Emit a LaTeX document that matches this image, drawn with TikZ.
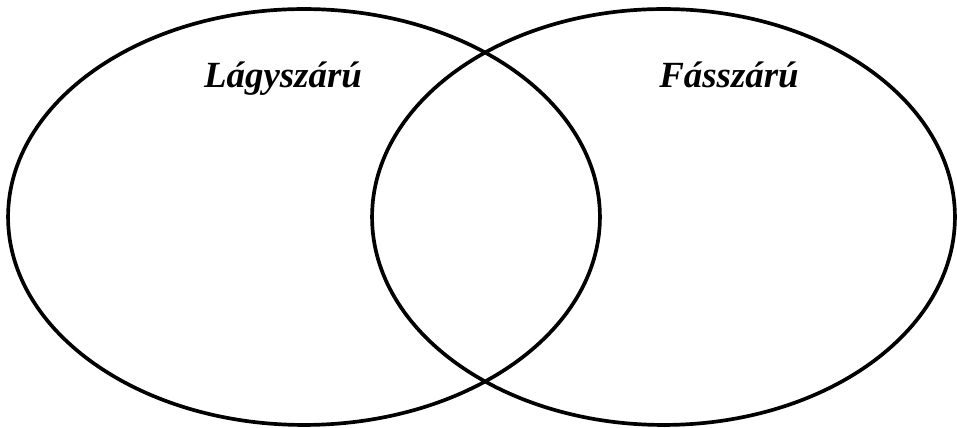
\documentclass[tikz,border=0pt]{standalone}
\usepackage{fontspec}
\setmainfont{Liberation Serif}
\usepackage{tikz}
\usetikzlibrary{shapes.geometric, positioning}
\tikzstyle{set} = [ellipse, draw=black, line width=2.1pt, inner sep=0pt, minimum height=8.32cm]
\tikzstyle{setlabel} = [anchor=base, inner sep=0pt, font=\fontsize{21}{25}\selectfont\bfseries\itshape]

\begin{document}
\begin{tikzpicture}[x=0.02cm, y=0.02cm]

    % ===============================
    % 1. FRAME
    % ===============================
    \useasboundingbox (0, 0) rectangle (957, -428);

    % ===============================
    % 2. SETS
    % ===============================
    \node[set, minimum width=11.84cm] (herb) at (304, -217) {};
    \node[set, minimum width=11.66cm] (wood) at (663.5, -217) {};

    % Labels
    \node[setlabel] (herblabel) at (283, -88) {Lágyszárú};
    \node[setlabel] (woodlabel) at (729, -88) {Fásszárú};

\end{tikzpicture}
\end{document}
